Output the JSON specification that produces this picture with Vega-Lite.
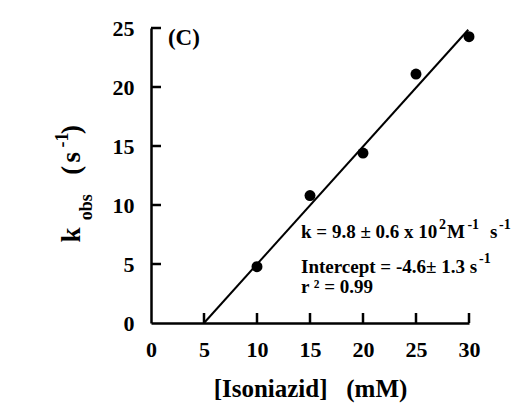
{
  "$schema": "https://vega.github.io/schema/vega-lite/v6.json",
  "width": 318,
  "height": 295,
  "autosize": {"type": "none"},
  "padding": {"left": 151, "top": 28, "right": 46, "bottom": 82},
  "background": "white",
  "config": {
    "view": {"stroke": null},
    "axis": {
      "grid": false,
      "ticks": false,
      "domainColor": "black",
      "domainWidth": 2.5,
      "labelFlush": false,
      "labelOverlap": false,
      "labelFont": "Liberation Serif",
      "labelFontWeight": "bold",
      "labelFontSize": 22,
      "labelColor": "black",
      "titleFont": "Liberation Serif",
      "titleFontWeight": "bold",
      "titleColor": "black"
    },
    "text": {"font": "Liberation Serif", "fontWeight": "bold", "color": "black"}
  },
  "datasets": {
    "points": [
      {"conc": 10, "kobs": 4.77},
      {"conc": 15, "kobs": 10.8},
      {"conc": 20, "kobs": 14.4},
      {"conc": 25, "kobs": 21.1},
      {"conc": 30, "kobs": 24.26}
    ],
    "fit": [
      {"conc": 5.0, "kobs": 0},
      {"conc": 29.93, "kobs": 24.85}
    ],
    "xticks": [{"t": 5}, {"t": 10}, {"t": 15}, {"t": 20}, {"t": 25}, {"t": 30}],
    "yticks": [{"t": 5}, {"t": 10}, {"t": 15}, {"t": 20}, {"t": 25}],
    "bigText": [
      {"lx": 14.15, "ly": 7.19, "label": "k = 9.8 ± 0.6 x 10"},
      {"lx": 14.15, "ly": 4.26, "label": "Intercept = -4.6± 1.3 s"},
      {"lx": 27.92, "ly": 7.19, "label": "M"},
      {"lx": 31.98, "ly": 7.19, "label": "s"},
      {"lx": 14.15, "ly": 2.56, "label": "r ² = 0.99"}
    ],
    "supText": [
      {"lx": 27.17, "ly": 8.0, "label": "2"},
      {"lx": 29.85, "ly": 8.0, "label": "-1"},
      {"lx": 32.83, "ly": 8.0, "label": "-1"},
      {"lx": 30.94, "ly": 5.08, "label": "-1"}
    ],
    "panel": [
      {"lx": 1.6, "ly": 23.6, "label": "(C)"}
    ],
    "yTitleBig": [
      {"lx": -6.70, "ly": 7.45, "label": "k"},
      {"lx": -6.70, "ly": 12.95, "label": "("},
      {"lx": -6.70, "ly": 14.05, "label": "s"},
      {"lx": -6.70, "ly": 16.4, "label": ")"}
    ],
    "yTitleSmall": [
      {"lx": -5.57, "ly": 9.8, "label": "obs"},
      {"lx": -7.83, "ly": 15.5, "label": "-1"}
    ]
  },
  "layer": [
    {
      "data": {"name": "fit"},
      "mark": {"type": "line", "color": "black", "strokeWidth": 2},
      "encoding": {
        "x": {
          "field": "conc", "type": "quantitative",
          "scale": {"domain": [0, 30], "nice": false},
          "axis": {
            "values": [0, 5, 10, 15, 20, 25, 30],
            "title": "[Isoniazid]\u00a0\u00a0\u00a0(mM)",
            "titleFontSize": 25,
            "titlePadding": 16,
            "labelPadding": 16
          }
        },
        "y": {
          "field": "kobs", "type": "quantitative",
          "scale": {"domain": [0, 25], "nice": false},
          "axis": {
            "values": [0, 5, 10, 15, 20, 25],
            "title": null,
            "labelPadding": 17
          }
        }
      }
    },
    {
      "data": {"name": "xticks"},
      "mark": {"type": "tick", "orient": "vertical", "color": "black", "opacity": 1, "size": 10, "thickness": 2.5, "yOffset": -5},
      "encoding": {
        "x": {"field": "t", "type": "quantitative"},
        "y": {"datum": 0, "type": "quantitative"}
      }
    },
    {
      "data": {"name": "yticks"},
      "mark": {"type": "tick", "orient": "horizontal", "color": "black", "opacity": 1, "size": 10, "thickness": 2.5, "xOffset": 5},
      "encoding": {
        "y": {"field": "t", "type": "quantitative"},
        "x": {"datum": 0, "type": "quantitative"}
      }
    },
    {
      "data": {"name": "points"},
      "mark": {"type": "circle", "color": "black", "opacity": 1, "size": 120},
      "encoding": {
        "x": {"field": "conc", "type": "quantitative"},
        "y": {"field": "kobs", "type": "quantitative"}
      }
    },
    {
      "data": {"name": "bigText"},
      "mark": {"type": "text", "fontSize": 19, "align": "left", "baseline": "alphabetic"},
      "encoding": {
        "x": {"field": "lx", "type": "quantitative"},
        "y": {"field": "ly", "type": "quantitative"},
        "text": {"field": "label"}
      }
    },
    {
      "data": {"name": "supText"},
      "mark": {"type": "text", "fontSize": 14, "align": "left", "baseline": "alphabetic"},
      "encoding": {
        "x": {"field": "lx", "type": "quantitative"},
        "y": {"field": "ly", "type": "quantitative"},
        "text": {"field": "label"}
      }
    },
    {
      "data": {"name": "panel"},
      "mark": {"type": "text", "fontSize": 23, "align": "left", "baseline": "alphabetic"},
      "encoding": {
        "x": {"field": "lx", "type": "quantitative"},
        "y": {"field": "ly", "type": "quantitative"},
        "text": {"field": "label"}
      }
    },
    {
      "data": {"name": "yTitleBig"},
      "mark": {"type": "text", "fontSize": 27, "angle": 270, "align": "center", "baseline": "alphabetic"},
      "encoding": {
        "x": {"field": "lx", "type": "quantitative"},
        "y": {"field": "ly", "type": "quantitative"},
        "text": {"field": "label"}
      }
    },
    {
      "data": {"name": "yTitleSmall"},
      "mark": {"type": "text", "fontSize": 18, "angle": 270, "align": "center", "baseline": "alphabetic"},
      "encoding": {
        "x": {"field": "lx", "type": "quantitative"},
        "y": {"field": "ly", "type": "quantitative"},
        "text": {"field": "label"}
      }
    }
  ]
}
